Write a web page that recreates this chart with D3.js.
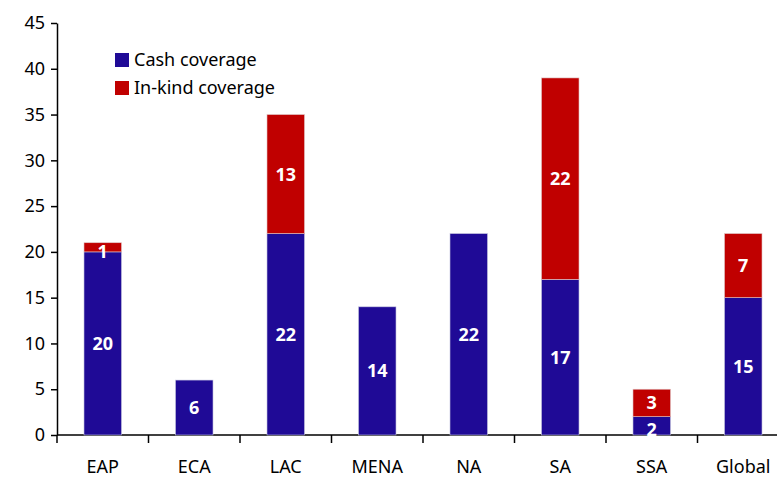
<!DOCTYPE html>
<html><head><meta charset="utf-8">
<script src="https://cdn.jsdelivr.net/npm/d3@7"></script>
<style>body{margin:0;background:#fff}text{font-family:"Noto Sans",sans-serif}</style>
</head><body><svg id="c" width="777" height="477"></svg>
<script>
var regions = ["EAP","ECA","LAC","MENA","NA","SA","SSA","Global"];
var cash = [20,6,22,14,22,17,2,15];
var inkind = [1,0,13,0,0,22,3,7];
var yTicks = [0,5,10,15,20,25,30,35,40,45];
var colors = {cash:"#1F0A96", inkind:"#C00000"};

var svg = d3.select("#c");
var mLeft = 57, mRight = 789, mTop = 23, mBottom = 435;

var x = d3.scaleBand().domain(regions).range([mLeft, mRight]).paddingInner(0.59).paddingOuter(0.295);
var xb = d3.scaleBand().domain(regions).range([mLeft, mRight]);
var y = d3.scaleLinear().domain([0,45]).range([mBottom, mTop]);

// y axis
var ya = svg.append("g").attr("transform", `translate(${mLeft},0)`)
  .call(d3.axisLeft(y).tickValues(yTicks).tickSize(6).tickSizeOuter(0));
ya.selectAll("text").attr("font-size", 18).attr("fill","#000").attr("x",-12).style("font-family","Noto Sans");
ya.selectAll(".tick line").attr("stroke","#000").attr("stroke-width",1.5);
ya.select(".domain").attr("stroke","#000").attr("stroke-width",1.5);

// x axis with ticks between categories
var xa = svg.append("g").attr("transform", `translate(0,${mBottom})`);
xa.append("line").attr("x1", mLeft).attr("x2", mRight).attr("stroke","#000").attr("stroke-width",1.5);
regions.forEach(function(r){
  xa.append("line").attr("x1", xb(r)).attr("x2", xb(r)).attr("y1",0).attr("y2",8).attr("stroke","#000").attr("stroke-width",1.5);
  xa.append("text").attr("x", xb(r)+xb.bandwidth()/2).attr("y", 38).attr("text-anchor","middle")
    .attr("font-size",18).text(r);
});

var rows = regions.map(function(r,i){ return {r:r, c:cash[i], k:inkind[i]}; });
var g = svg.append("g");
rows.forEach(function(d){
  g.append("rect").attr("x", x(d.r)).attr("width", x.bandwidth())
    .attr("y", y(d.c)).attr("height", y(0)-y(d.c)).attr("fill", colors.cash)
    .attr("stroke","#c8c8e0").attr("stroke-width",0.6);
  if (d.k > 0) g.append("rect").attr("x", x(d.r)).attr("width", x.bandwidth())
    .attr("y", y(d.c+d.k)).attr("height", y(d.c)-y(d.c+d.k)).attr("fill", colors.inkind)
    .attr("stroke","#e0c8c8").attr("stroke-width",0.6);
  var lab = function(v, mid){
    g.append("text").attr("x", x(d.r)+x.bandwidth()/2).attr("y", y(mid)).attr("dy","0.36em")
      .attr("text-anchor","middle").attr("fill","#fff").attr("font-weight","bold").attr("font-size",18).text(v);
  };
  var cm = d.c >= 4 ? d.c/2 : d.c/2 - 0.4;
  lab(d.c, cm);
  if (d.k > 0) lab(d.k, d.c + d.k/2 - (d.k < 2 ? 0.5 : 0));
});

// legend
var leg = svg.append("g");
[["Cash coverage", colors.cash, 60],["In-kind coverage", colors.inkind, 88]].forEach(function(l){
  leg.append("rect").attr("x",115).attr("y",l[2]-7).attr("width",14).attr("height",14).attr("fill",l[1]);
  leg.append("text").attr("x",134).attr("y",l[2]).attr("dy","0.36em").attr("font-size",18).text(l[0]);
});
</script></body></html>
